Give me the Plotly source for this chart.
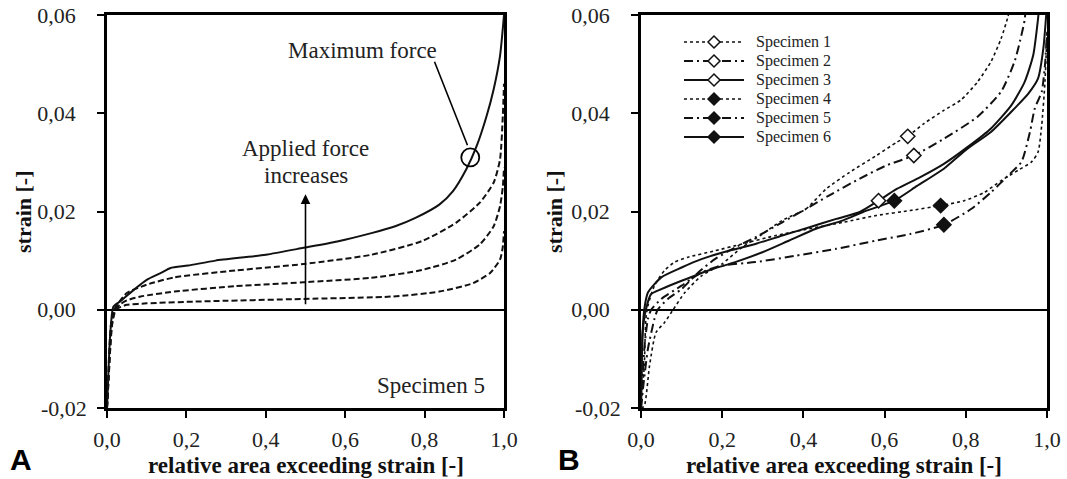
import plotly.graph_objects as go

# ---------------- Panel A data (Specimen 5, increasing force) ----------------
a_max_x = [0.0, 0.003, 0.006, 0.01, 0.016, 0.033, 0.068, 0.10, 0.136, 0.16, 0.204, 0.273, 0.40,
           0.495, 0.58, 0.666, 0.726, 0.777, 0.837, 0.871, 0.905, 0.931, 0.956, 0.974, 0.99, 1.0]
a_max_y = [-0.02, -0.014, -0.008, -0.003, 0.0006, 0.0017, 0.0041, 0.0061, 0.0075, 0.0085, 0.009,
           0.010, 0.0112, 0.0126, 0.0139, 0.0156, 0.017, 0.0187, 0.0214, 0.0241, 0.0286, 0.0333,
           0.0394, 0.0449, 0.0517, 0.06]

a_f3_x = [0.0, 0.003, 0.006, 0.01, 0.018, 0.03, 0.05, 0.10, 0.17, 0.324, 0.495, 0.666, 0.794,
          0.879, 0.939, 0.974, 0.99, 0.997, 1.0]
a_f3_y = [-0.02, -0.014, -0.008, -0.003, 0.0, 0.0015, 0.0034, 0.0051, 0.0066, 0.008, 0.0093,
          0.0112, 0.014, 0.0177, 0.0218, 0.0259, 0.0306, 0.0394, 0.046]

a_f2_x = [0.0, 0.004, 0.008, 0.012, 0.02, 0.035, 0.05, 0.085, 0.17, 0.324, 0.495, 0.666, 0.794,
          0.879, 0.939, 0.974, 0.99, 0.997, 1.0]
a_f2_y = [-0.02, -0.014, -0.008, -0.003, 0.0, 0.0012, 0.0019, 0.0027, 0.0037, 0.0048, 0.0056,
          0.0065, 0.0081, 0.0102, 0.0133, 0.017, 0.0211, 0.025, 0.029]

a_f1_x = [0.0, 0.004, 0.008, 0.013, 0.022, 0.035, 0.05, 0.10, 0.238, 0.495, 0.72, 0.837, 0.922,
          0.965, 0.99, 0.997, 1.0]
a_f1_y = [-0.02, -0.014, -0.008, -0.003, 0.0, 0.0006, 0.001, 0.0013, 0.0017, 0.0022, 0.0027,
          0.0037, 0.0054, 0.0075, 0.0102, 0.0128, 0.016]

a_max_force_point = [0.915, 0.031]

# ---------------- Panel B data (six specimens at maximum force) ----------------
s1_x = [0.0, 0.008, 0.021, 0.037, 0.058, 0.079, 0.108, 0.149, 0.199, 0.249, 0.299, 0.348, 0.406,
        0.456, 0.514, 0.58, 0.63, 0.657, 0.697, 0.746, 0.788, 0.829, 0.862, 0.887, 0.904, 0.91]
s1_y = [-0.02, -0.0196, -0.0114, -0.0046, -0.0026, 0.0, 0.0035, 0.0069, 0.0093, 0.0127, 0.0154,
        0.0182, 0.0205, 0.0246, 0.028, 0.0314, 0.0341, 0.0353, 0.0379, 0.0406, 0.0427, 0.0464,
        0.0505, 0.0552, 0.0597, 0.062]

s2_x = [0.0, 0.005, 0.017, 0.033, 0.041, 0.066, 0.1, 0.141, 0.182, 0.232, 0.29, 0.348, 0.406,
        0.464, 0.539, 0.605, 0.672, 0.746, 0.829, 0.887, 0.92, 0.937, 0.945, 0.948]
s2_y = [-0.02, -0.016, -0.008, -0.0019, 0.0, 0.0022, 0.0042, 0.0076, 0.0103, 0.0127, 0.0151,
        0.0178, 0.0205, 0.0233, 0.0267, 0.0294, 0.0314, 0.0348, 0.0393, 0.0444, 0.0505, 0.0559,
        0.059, 0.062]

s3_x = [0.0, 0.004, 0.008, 0.017, 0.05, 0.1, 0.149, 0.216, 0.282, 0.348, 0.415, 0.481, 0.539,
        0.585, 0.63, 0.688, 0.746, 0.804, 0.862, 0.912, 0.945, 0.966, 0.978, 0.981]
s3_y = [-0.02, -0.0046, 0.0, 0.0035, 0.0066, 0.0086, 0.0103, 0.012, 0.0134, 0.0151, 0.0168,
        0.0185, 0.0199, 0.0222, 0.0246, 0.027, 0.0297, 0.0331, 0.0369, 0.0416, 0.0464, 0.0518,
        0.0593, 0.062]

s4_x = [0.0, 0.008, 0.012, 0.017, 0.033, 0.058, 0.083, 0.116, 0.182, 0.249, 0.332, 0.415, 0.498,
        0.58, 0.663, 0.738, 0.796, 0.846, 0.887, 0.929, 0.962, 0.978, 0.987, 0.995, 1.0]
s4_y = [-0.02, -0.0114, -0.0019, 0.0008, 0.0049, 0.008, 0.0097, 0.0107, 0.012, 0.0134, 0.0151,
        0.0165, 0.0178, 0.0192, 0.0202, 0.0212, 0.0222, 0.0239, 0.0263, 0.0284, 0.0301, 0.0321,
        0.0376, 0.0464, 0.0566]

s5_x = [0.0, 0.008, 0.017, 0.025, 0.05, 0.1, 0.149, 0.199, 0.282, 0.381, 0.481, 0.58, 0.663,
        0.746, 0.813, 0.862, 0.904, 0.937, 0.958, 0.97, 0.987, 0.995, 1.0]
s5_y = [-0.02, -0.008, -0.0019, 0.0, 0.0022, 0.0049, 0.0076, 0.009, 0.0097, 0.011, 0.0124,
        0.0141, 0.0154, 0.0173, 0.0205, 0.0239, 0.0273, 0.0301, 0.0362, 0.041, 0.0444, 0.0498,
        0.0566]

s6_x = [0.0, 0.004, 0.012, 0.025, 0.05, 0.1, 0.166, 0.232, 0.299, 0.365, 0.431, 0.498, 0.547,
        0.624, 0.68, 0.746, 0.804, 0.862, 0.912, 0.954, 0.978, 0.991, 0.998]
s6_y = [-0.02, -0.0046, 0.0, 0.0032, 0.0042, 0.0059, 0.008, 0.0097, 0.0117, 0.0141, 0.0165,
        0.0182, 0.0199, 0.0222, 0.0252, 0.0287, 0.0328, 0.0362, 0.0403, 0.044, 0.0471, 0.0532,
        0.06]

specimen_names = ["Specimen 1", "Specimen 2", "Specimen 3", "Specimen 4", "Specimen 5", "Specimen 6"]
marker_x = [0.657, 0.672, 0.585, 0.738, 0.746, 0.624]
marker_y = [0.0353, 0.0314, 0.0222, 0.0212, 0.0173, 0.0222]

x_tick_vals = [0.0, 0.2, 0.4, 0.6, 0.8, 1.0]
x_tick_text = ["0,0", "0,2", "0,4", "0,6", "0,8", "1,0"]
y_tick_vals = [-0.02, 0.0, 0.02, 0.04, 0.06]
y_tick_text = ["-0,02", "0,00\u2007", "0,02\u2007", "0,04\u2007", "0,06\u2007"]

x_title = "relative area exceeding strain [-]"
y_title = "strain [-]"

SERIF = "Liberation Serif, Times New Roman, serif"
SANS = "Liberation Sans, Arial, sans-serif"
INK = "#111111"
W, H = 1067, 479


def px(x):
    return x / W


def py(y):
    return 1 - y / H


fig = go.Figure()

# ---- Panel A curves ----
for xs, ys, dash in [(a_f1_x, a_f1_y, "6px,3px"), (a_f2_x, a_f2_y, "6px,3px"),
                     (a_f3_x, a_f3_y, "6px,3px"), (a_max_x, a_max_y, "solid")]:
    fig.add_trace(go.Scatter(x=xs, y=ys, mode="lines", xaxis="x", yaxis="y",
                             line=dict(color=INK, width=2, dash=dash, shape="spline",
                                       smoothing=0.6),
                             showlegend=False, hoverinfo="skip"))

# ---- Panel B curves ----
b_series = [(s1_x, s1_y), (s2_x, s2_y), (s3_x, s3_y), (s4_x, s4_y), (s5_x, s5_y), (s6_x, s6_y)]
b_dash = ["dot", "9px,4px,2px,4px", "solid", "dot", "9px,4px,2px,4px", "solid"]
b_width = [1.6, 2, 2, 1.6, 2, 2]
b_fill = ["white", "white", "white", INK, INK, INK]

for i, (xs, ys) in enumerate(b_series):
    fig.add_trace(go.Scatter(x=xs, y=ys, mode="lines", xaxis="x2", yaxis="y2",
                             name=specimen_names[i],
                             line=dict(color=INK, width=b_width[i], dash=b_dash[i],
                                       shape="spline", smoothing=0.6),
                             showlegend=False, hoverinfo="skip"))
for i in range(6):
    fig.add_trace(go.Scatter(x=[marker_x[i]], y=[marker_y[i]], mode="markers",
                             xaxis="x2", yaxis="y2", name=specimen_names[i], showlegend=False,
                             marker=dict(symbol="diamond", size=11, color=b_fill[i],
                                         line=dict(color=INK, width=1.5))))

axis_common = dict(showline=True, linecolor="black", linewidth=2.5, mirror=True,
                   ticks="outside", ticklen=7, tickwidth=2, tickcolor="black",
                   showgrid=False, automargin=False,
                   tickfont=dict(family=SERIF, size=22, color="#222222"))

x_dom_a = [px(107), px(504)]
x_dom_b = [px(641), px(1047)]
y_dom = [py(408), py(15)]

fig.update_layout(
    width=W, height=H,
    margin=dict(l=0, r=0, t=0, b=0, autoexpand=False),
    paper_bgcolor="white", plot_bgcolor="white",
    showlegend=False,
    xaxis=dict(domain=x_dom_a, range=[0, 1], anchor="y", tickvals=x_tick_vals,
               ticktext=x_tick_text, zeroline=False, ticklabelstandoff=3, **axis_common),
    yaxis=dict(domain=y_dom, range=[-0.02, 0.06], anchor="x", tickvals=y_tick_vals,
               ticktext=y_tick_text, zeroline=True, zerolinecolor="black", zerolinewidth=1.5,
               ticklabelstandoff=6, **axis_common),
    xaxis2=dict(domain=x_dom_b, range=[0, 1], anchor="y2", tickvals=x_tick_vals,
                ticktext=x_tick_text, zeroline=False, ticklabelstandoff=3, **axis_common),
    yaxis2=dict(domain=y_dom, range=[-0.02, 0.06], anchor="x2", tickvals=y_tick_vals,
                ticktext=y_tick_text, zeroline=True, zerolinecolor="black", zerolinewidth=1.5,
                ticklabelstandoff=6, **axis_common),
)

ann = []
shapes = []
# axis titles
for xc in [(x_dom_a[0] + x_dom_a[1]) / 2, (x_dom_b[0] + x_dom_b[1]) / 2]:
    ann.append(dict(xref="paper", yref="paper", x=xc, y=py(465), text="<b>" + x_title + "</b>",
                    showarrow=False, font=dict(family=SERIF, size=23, color="#111111"),
                    xanchor="center", yanchor="middle"))
for xp in [px(23), px(554)]:
    ann.append(dict(xref="paper", yref="paper", x=xp, y=py(212), text="<b>" + y_title + "</b>",
                    textangle=-90, showarrow=False,
                    font=dict(family=SERIF, size=22, color="#111111"),
                    xanchor="center", yanchor="middle"))
# panel letters
ann.append(dict(xref="paper", yref="paper", x=px(21), y=py(459), text="<b>A</b>",
                showarrow=False, font=dict(family=SANS, size=30, color="black"),
                xanchor="center", yanchor="middle"))
ann.append(dict(xref="paper", yref="paper", x=px(569), y=py(459), text="<b>B</b>",
                showarrow=False, font=dict(family=SANS, size=30, color="black"),
                xanchor="center", yanchor="middle"))
# panel A texts
txt_font = dict(family=SERIF, size=23, color="#222222")
ann.append(dict(xref="x", yref="y", x=0.644, y=0.0527, text="Maximum force", showarrow=False,
                font=txt_font, xanchor="center", yanchor="middle"))
ann.append(dict(xref="x", yref="y", x=0.5, y=0.0328, text="Applied force", showarrow=False,
                font=txt_font, xanchor="center", yanchor="middle"))
ann.append(dict(xref="x", yref="y", x=0.5, y=0.0274, text="increases", showarrow=False,
                font=txt_font, xanchor="center", yanchor="middle"))
ann.append(dict(xref="x", yref="y", x=0.817, y=-0.0155, text="Specimen 5", showarrow=False,
                font=txt_font, xanchor="center", yanchor="middle"))
# arrow
ann.append(dict(xref="x", yref="y", axref="x", ayref="y", x=0.5, y=0.0235, ax=0.5, ay=0.0008,
                text="", showarrow=True, arrowhead=2, arrowsize=1.2, arrowwidth=1.6,
                arrowcolor="black"))

shapes.append(dict(type="line", xref="x", yref="y", x0=0.825, y0=0.0505, x1=0.908, y1=0.0335,
                   line=dict(color="black", width=1.6)))
shapes.append(dict(type="circle", xref="x", yref="y", xsizemode="pixel", ysizemode="pixel",
                   xanchor=a_max_force_point[0], yanchor=a_max_force_point[1],
                   x0=-9, x1=9, y0=-9, y1=9, line=dict(color="black", width=1.8)))

# ---- legend of panel B (drawn as a key inside the plot) ----
leg_x0, leg_x1, leg_mark, leg_text = 684, 744, 714, 754
leg_top, leg_step = 42, 19
for i, name in enumerate(specimen_names):
    ry = leg_top + i * leg_step
    shapes.append(dict(type="line", xref="paper", yref="paper", x0=px(leg_x0), x1=px(leg_x1),
                       y0=py(ry), y1=py(ry),
                       line=dict(color=INK, width=b_width[i], dash=b_dash[i])))
    shapes.append(dict(type="path", xref="paper", yref="paper", xsizemode="pixel",
                       ysizemode="pixel", xanchor=px(leg_mark), yanchor=py(ry),
                       path="M -6 0 L 0 6 L 6 0 L 0 -6 Z", fillcolor=b_fill[i],
                       line=dict(color=INK, width=1.5)))
    ann.append(dict(xref="paper", yref="paper", x=px(leg_text), y=py(ry), text=name,
                    showarrow=False, font=dict(family=SERIF, size=16, color="#222222"),
                    xanchor="left", yanchor="middle"))

fig.update_layout(annotations=ann, shapes=shapes)

fig.write_html("out.html", config={"displayModeBar": False},
               post_script="document.body.style.margin='0';document.body.style.padding='0';"
                           "document.body.style.overflow='hidden';")
